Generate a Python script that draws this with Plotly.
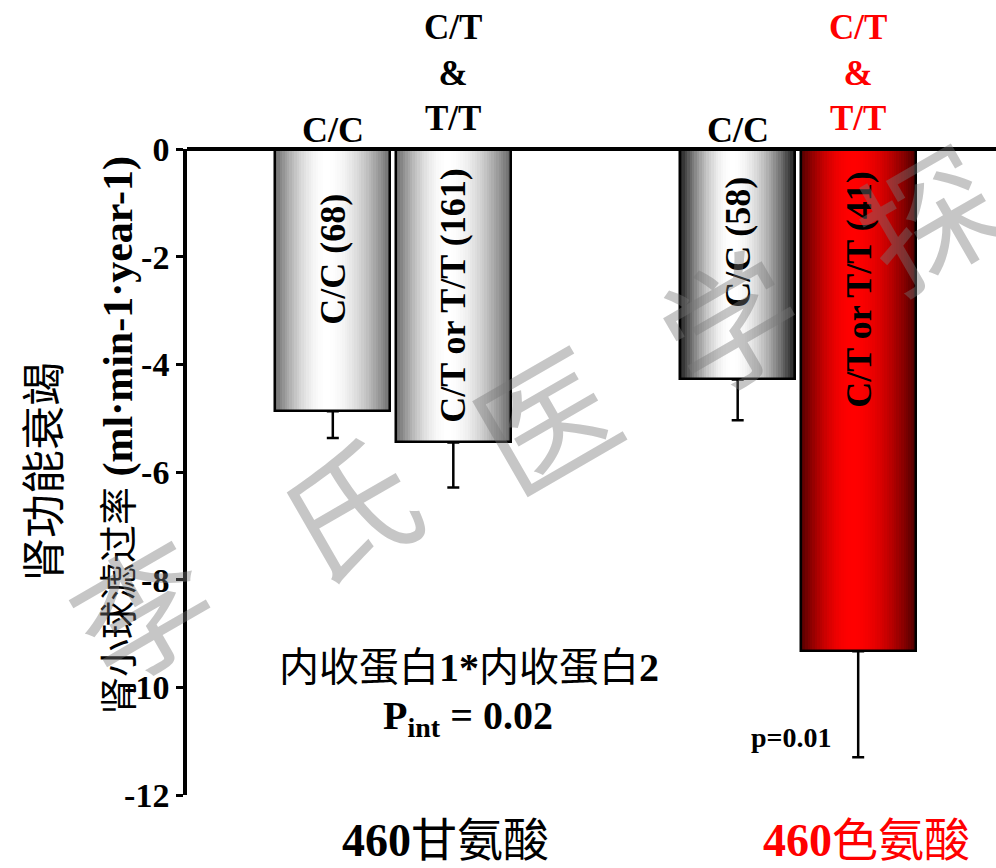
import math
import plotly.graph_objects as go

# ---- data -------------------------------------------------------------
genotypes = ["C/C", "C/T or T/T", "C/C", "C/T or T/T"]
counts = [68, 161, 58, 41]
mean_change = [-4.87, -5.45, -4.28, -9.33]
sem = [0.50, 0.84, 0.76, 1.97]
top_labels = ["C/C", "C/T<br>&<br>T/T", "C/C", "C/T<br>&<br>T/T"]
group_labels = ["460甘氨酸", "460色氨酸"]
y_ticks = [0, -2, -4, -6, -8, -10, -12]
y_tick_text = ["0", "-2", "-4", "-6", "-8", "-10", "-12"]
interaction_label = "内收蛋白1*内收蛋白2"
p_interaction = "0.02"
p_group = "0.01"

# ---- layout constants ---------------------------------------------------
W, H = 996, 868
L, R, T, B = 187, 0, 149, 73
PW, PH = W - L - R, H - T - B
bar_pos = [1.21, 2.21, 4.57, 5.57]
BAR_W = 0.955
X_RANGE = [0, PW / 120.5]
SERIF = "Liberation Serif, Noto Sans CJK SC, serif"
CJK = "Noto Sans CJK SC, sans-serif"
RED = "#ff0000"

# cylinder shading per bar: (edge colour, highlight colour)
shades = [
    ((105, 105, 105), (255, 255, 255)),
    ((100, 100, 100), (255, 255, 255)),
    ((22, 22, 22), (255, 255, 255)),
    ((75, 0, 0), (255, 0, 0)),
]
label_y = [-2.04, -2.72, -1.73, -2.61]


def px(x, y):
    """Pixel position -> paper coordinates."""
    return (x - L) / PW, (H - B - y) / PH


def gradient(edge, center, n, peak=0.45):
    cols = []
    for i in range(n):
        t = (i + 0.5) / n
        d = (t - peak) / peak if t < peak else (t - peak) / (1 - peak)
        f = math.cos(math.pi / 2 * min(abs(d), 1.0)) ** 0.9
        c = [round(e + (h - e) * f) for e, h in zip(edge, center)]
        cols.append(f"rgb({c[0]},{c[1]},{c[2]})")
    return cols


fig = go.Figure()

N = 48
step = BAR_W / N
for i, (xc, v) in enumerate(zip(bar_pos, mean_change)):
    xs = [xc - BAR_W / 2 + (k + 0.5) * step for k in range(N)]
    fig.add_trace(go.Bar(
        x=xs, y=[v] * N, width=step * 1.15,
        marker=dict(color=gradient(*shades[i], N), line=dict(width=0)),
        hoverinfo="skip", showlegend=False,
    ))

# outlines + downward error bars
fig.add_trace(go.Bar(
    x=bar_pos, y=mean_change, width=BAR_W,
    marker=dict(color="rgba(0,0,0,0)", line=dict(color="black", width=2.5)),
    error_y=dict(type="data", symmetric=False, array=[0] * len(sem),
                 arrayminus=sem, color="black", thickness=2.5, width=6),
    showlegend=False,
))

ann = []
# labels inside bars
for xc, yl, g, n in zip(bar_pos, label_y, genotypes, counts):
    ann.append(dict(x=xc, y=yl, xref="x", yref="y", text=f"<b>{g} ({n})</b>",
                    textangle=-90, showarrow=False,
                    font=dict(family=SERIF, size=36, color="black"),
                    xanchor="center", yanchor="middle"))

# genotype labels above the bars
for i, (xc, lab) in enumerate(zip(bar_pos, top_labels)):
    multi = "<br>" in lab
    ann.append(dict(x=xc, y=0, xref="x", yref="y", text=f"<b>{lab}</b>",
                    showarrow=False, xanchor="center", yanchor="bottom",
                    yshift=9 if multi else -3,
                    font=dict(family=SERIF, size=35 if multi else 36,
                              color=RED if i == 3 else "black")))

# group labels under the axis
for (cx, col), lab in zip([(445, "black"), (866, RED)], group_labels):
    x, y = px(cx, 840)
    ann.append(dict(x=x, y=y, xref="paper", yref="paper",
                    text=f"<b>{lab[:3]}</b>{lab[3:]}", showarrow=False,
                    xanchor="center", yanchor="middle",
                    font=dict(family=SERIF, size=46, color=col)))

# y-axis titles
x, y = px(41, 472)
ann.append(dict(x=x, y=y, xref="paper", yref="paper", text="肾功能衰竭",
                textangle=-90, showarrow=False, xanchor="center", yanchor="middle",
                font=dict(family=CJK, size=44, color="black")))
x, y = px(118, 436)
ann.append(dict(x=x, y=y, xref="paper", yref="paper",
                text="<span style='font-size:38px'>肾小球滤过率</span> <b>(ml·min-1·year-1)</b>",
                textangle=-90, showarrow=False, xanchor="center", yanchor="middle",
                font=dict(family=SERIF, size=42, color="black")))

# interaction note
x, y = px(469, 667)
ann.append(dict(x=x, y=y, xref="paper", yref="paper",
                text="内收蛋白<b>1*</b>内收蛋白<b>2</b>", showarrow=False,
                xanchor="center", yanchor="middle",
                font=dict(family=SERIF, size=40, color="black")))
x, y = px(468, 718)
ann.append(dict(x=x, y=y, xref="paper", yref="paper",
                text=f"<b>P<sub>int</sub> = {p_interaction}</b>", showarrow=False,
                xanchor="center", yanchor="middle",
                font=dict(family=SERIF, size=40, color="black")))
x, y = px(791, 737)
ann.append(dict(x=x, y=y, xref="paper", yref="paper",
                text=f"<b>p={p_group}</b>", showarrow=False,
                xanchor="center", yanchor="middle",
                font=dict(family=SERIF, size=28, color="black")))

# diagonal watermark
for ch, (cx, cy) in zip("李氏医学探", [(140, 605), (345, 505), (543, 415), (728, 318), (925, 213)]):
    x, y = px(cx, cy)
    ann.append(dict(x=x, y=y, xref="paper", yref="paper", text=ch, textangle=-30,
                    showarrow=False, xanchor="center", yanchor="middle",
                    font=dict(family=CJK, size=134, color="rgba(120,120,120,0.42)")))

fig.update_layout(
    width=W, height=H, autosize=False,
    margin=dict(l=L, r=R, t=T, b=B, pad=0),
    paper_bgcolor="white", plot_bgcolor="white",
    barmode="overlay", bargap=0,
    xaxis=dict(visible=False, range=X_RANGE, fixedrange=True),
    yaxis=dict(range=[-12, 0], tickvals=y_ticks, ticktext=y_tick_text,
               showline=True, linecolor="black", linewidth=3.5, mirror=False,
               ticks="outside", ticklen=7, tickwidth=3, tickcolor="black",
               tickfont=dict(family=SERIF, size=34, color="black", weight="bold"),
               showgrid=False, zeroline=False, fixedrange=True),
    # zero reference line along the top of the plot area
    shapes=[dict(type="line", xref="paper", x0=0, x1=1, yref="paper", y0=1, y1=1,
                 line=dict(color="black", width=4), layer="above")],
    annotations=ann,
)

fig.write_html("out.html")
